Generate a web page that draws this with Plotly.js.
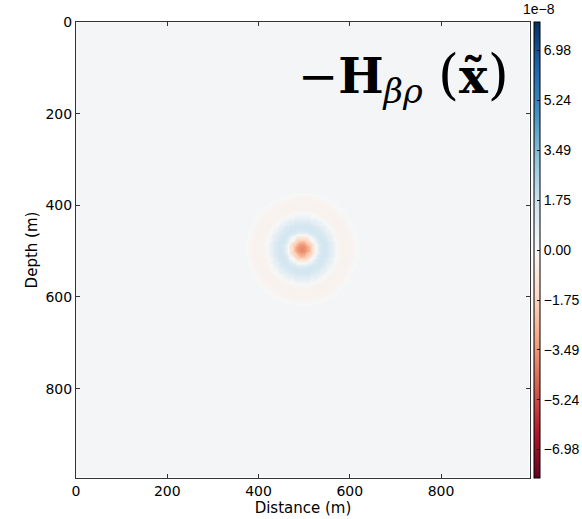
<!DOCTYPE html>
<html>
<head>
<meta charset="utf-8">
<script src="https://cdn.plot.ly/plotly-3.0.1.min.js"></script>
<style>html,body{margin:0;padding:0;background:#fff;}#plot{width:582px;height:519px;}</style>
</head>
<body>
<div id="plot"></div>
<script>
// Grid (metres)
var gridStep = 5;
var gridCount = 199;
var centerX = 495;
var centerY = 495;
// Radial profile of the field (units of 1e-8), sampled every 5 m from the centre
var radialStep = 5;
var radialProfile = [-3.9, -3.75, -3.35, -2.7, -1.8, -0.9, 0.0, 0.7, 1.2, 1.45,
                     1.45, 1.3, 1.05, 0.75, 0.45, 0.15, -0.1, -0.25, -0.3, -0.32,
                     -0.3, -0.26, -0.2, -0.1, 0.02, 0.12, 0.15];
var backgroundValue = 0.15;
// Colour bar
var zLimit = 7.98;
var cbTickVals = [6.98, 5.24, 3.49, 1.75, 0.00, -1.75, -3.49, -5.24, -6.98];
var cbTickText = ["6.98", "5.24", "3.49", "1.75", "0.00", "\u22121.75", "\u22123.49", "\u22125.24", "\u22126.98"];
var axisTickVals = [0, 200, 400, 600, 800];
var axisTickText = ["0", "200", "400", "600", "800"];

var xs = [], ys = [];
for (var i = 0; i < gridCount; i++) { xs.push(i * gridStep); ys.push(i * gridStep); }
var z = [];
for (var j = 0; j < gridCount; j++) {
  var row = [];
  for (var i2 = 0; i2 < gridCount; i2++) {
    var dx = xs[i2] - centerX, dy = ys[j] - centerY;
    var idx = Math.round(Math.sqrt(dx*dx + dy*dy) / radialStep);
    row.push(idx < radialProfile.length ? radialProfile[idx] : backgroundValue);
  }
  z.push(row);
}

var rdbu = [
  [0.0, '#67001f'], [0.1, '#b2182b'], [0.2, '#d6604d'], [0.3, '#f4a582'],
  [0.4, '#fddbc7'], [0.5, '#f7f7f7'], [0.6, '#d1e5f0'], [0.7, '#92c5de'],
  [0.8, '#4393c3'], [0.9, '#2166ac'], [1.0, '#053061']
];

var L = 76, R = 52, T = 22, B = 41, W = 582, H = 519;
var pw = W - L - R, ph = H - T - B;

var trace = {
  type: 'heatmap', x: xs, y: ys, z: z,
  colorscale: rdbu, zmin: -zLimit, zmax: zLimit, zsmooth: 'best',
  colorbar: {
    x: (534 - L) / pw, xanchor: 'left', xref: 'paper',
    y: 0.5, yanchor: 'middle', len: 1, lenmode: 'fraction',
    thickness: 6, xpad: 0, ypad: 0,
    outlinewidth: 1, outlinecolor: '#000',
    tickmode: 'array', tickvals: cbTickVals, ticktext: cbTickText,
    ticks: 'inside', ticklen: 3, tickcolor: '#000',
    tickfont: {family: 'Liberation Sans, Arial', size: 14, color: '#000'}
  }
};

var axisCommon = {
  showgrid: false, zeroline: false, showline: true, mirror: 'ticks',
  linecolor: '#333', linewidth: 1, ticks: 'inside', ticklen: 4, tickcolor: '#333',
  tickmode: 'array', tickvals: axisTickVals, ticktext: axisTickText,
  tickfont: {family: 'DejaVu Sans', size: 14, color: '#000'}
};

var layout = {
  width: W, height: H,
  margin: {l: L, r: R, t: T, b: B, pad: 0, autoexpand: false},
  paper_bgcolor: '#fff', plot_bgcolor: '#fff',
  xaxis: Object.assign({}, axisCommon, {
    range: [0, 995], title: {text: 'Distance (m)', standoff: 2, font: {family: 'DejaVu Sans', size: 15, color: '#000'}}
  }),
  yaxis: Object.assign({}, axisCommon, {
    range: [995, 0], title: {text: 'Depth (m)', standoff: 4, font: {family: 'DejaVu Sans', size: 15, color: '#000'}}
  }),
  annotations: [
    {xref: 'paper', yref: 'paper', x: (511 - L) / pw, y: 1 - (77 - T) / ph, xanchor: 'right', yanchor: 'middle',
     showarrow: false,
     text: '\u2212<b>H</b><sub><i>\u03b2\u03c1</i></sub> <span style="font-size:54px">(</span><b>x\u0303</b><span style="font-size:54px">)</span>',
     font: {family: 'DejaVu Serif', size: 48, color: '#000'}},
    {xref: 'paper', yref: 'paper', x: (539 - L) / pw, y: 1 + (T - 9) / ph, xanchor: 'center', yanchor: 'middle',
     showarrow: false, text: '1e\u22128', font: {family: 'Liberation Sans, Arial', size: 14, color: '#000'}}
  ]
};

Plotly.newPlot('plot', [trace], layout, {displayModeBar: false, staticPlot: true});
</script>
</body>
</html>
